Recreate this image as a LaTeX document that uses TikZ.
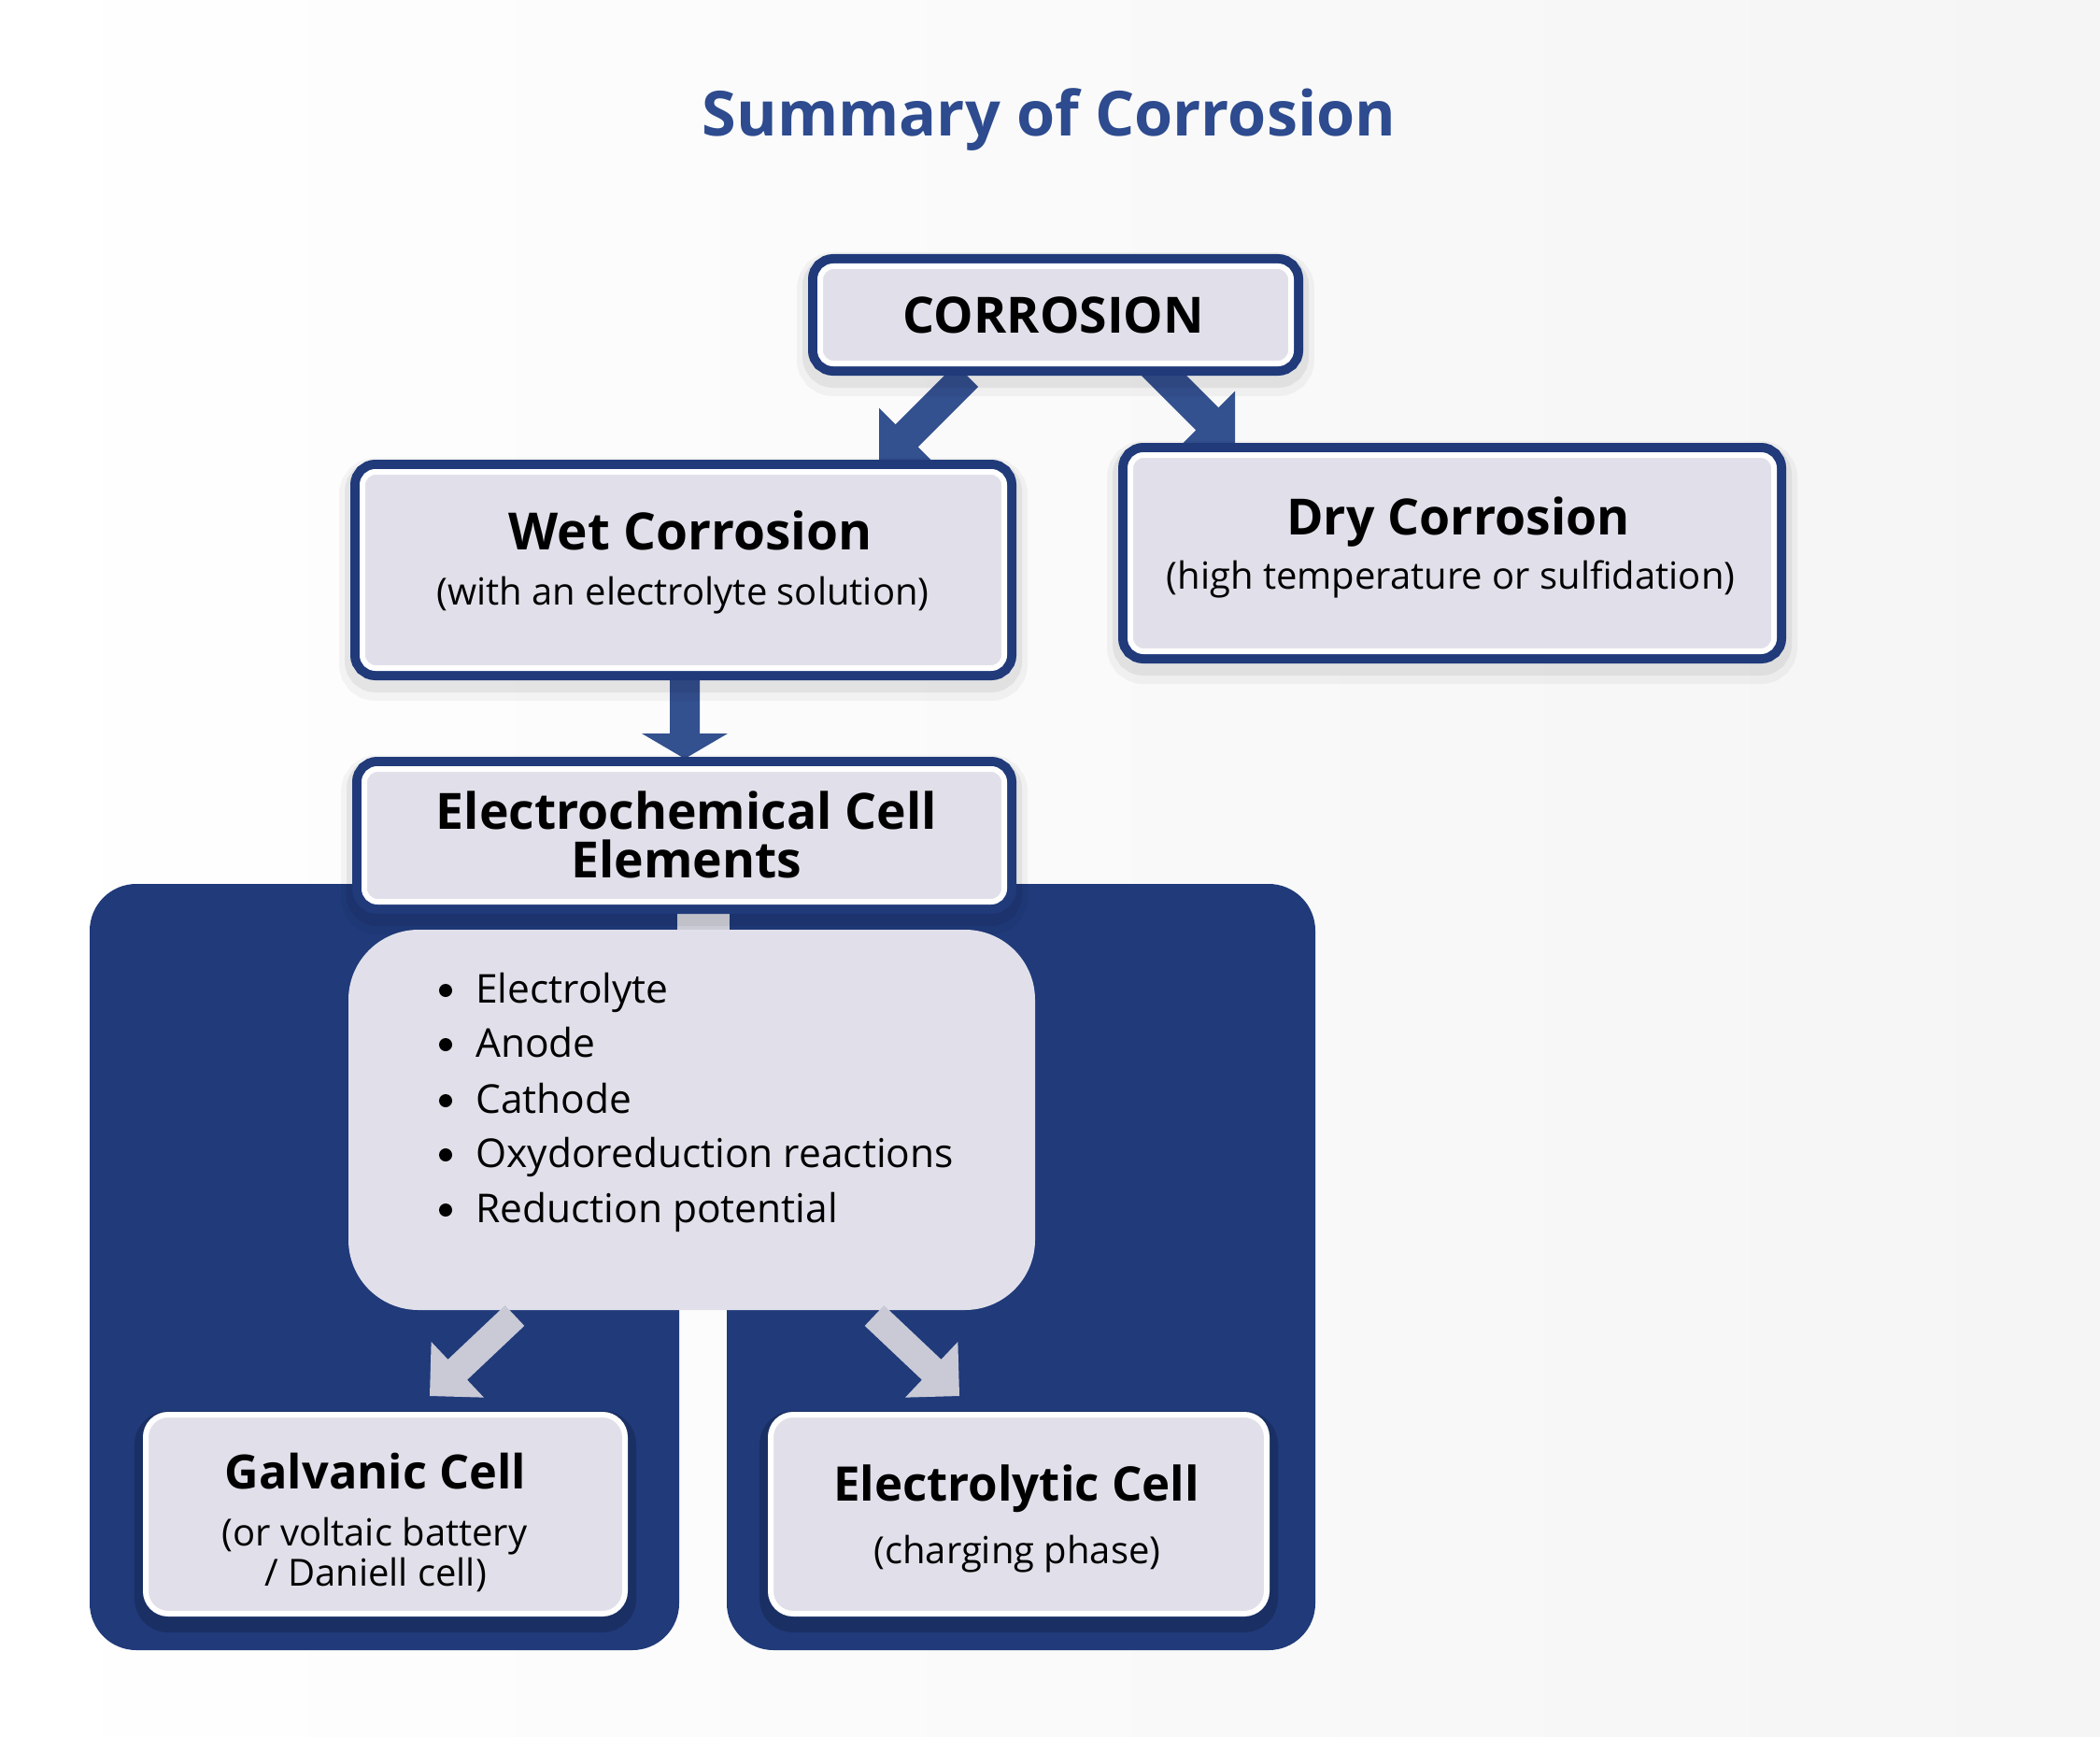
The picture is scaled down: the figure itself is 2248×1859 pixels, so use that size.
\documentclass[tikz,border=0pt]{standalone}
\usepackage{fontspec}
\setmainfont{Open Sans}
\usetikzlibrary{calc}
\definecolor{navy}{HTML}{203A7A}
\definecolor{boxfill}{HTML}{E1E0EA}
\definecolor{titleblue}{HTML}{2D4B8E}
\definecolor{arrowblue}{HTML}{33508F}
\definecolor{arrowgrey}{HTML}{C9CAD6}
\newcommand\fatarrow[6]{% tail, tip, half shaft, head length, half head, style
  \coordinate (#1-#2-b) at ($(#2)!#4!(#1)$);
  \fill[#6] ($(#1)!#3!90:(#2)$) -- ($(#1-#2-b)!#3!90:(#2)$) -- ($(#1-#2-b)!#5!90:(#2)$)
    -- (#2) -- ($(#1-#2-b)!#5!-90:(#2)$) -- ($(#1-#2-b)!#3!-90:(#2)$) -- ($(#1)!#3!-90:(#2)$) -- cycle;
}
\tikzset{
  softshadow/.style={preaction={draw=black, draw opacity=0.04, line width=50pt, transform canvas={yshift=-10pt}},
                     preaction={draw=black, draw opacity=0.06, line width=38pt, transform canvas={yshift=-7pt}}},
  topbox/.style={softshadow, rounded corners=14pt, fill=boxfill, draw=white, line width=6pt, inner sep=0pt,
    preaction={draw=navy, line width=26pt}},
  cellbox/.style={preaction={draw=black, draw opacity=0.18, line width=24pt, transform canvas={yshift=-8pt}},
    rounded corners=24pt, fill=boxfill, draw=white, line width=6pt, inner sep=0pt},
  listbox/.style={rounded corners=75pt, fill=boxfill, inner sep=0pt},
  head/.style={font=\fontsize{53.5}{53.5}\selectfont\bfseries, anchor=base, inner sep=0pt},
  sub/.style={font=\fontsize{40}{40}\selectfont, anchor=base, inner sep=0pt},
  item/.style={font=\fontsize{42.5}{42.5}\selectfont, anchor=base west, inner sep=0pt},
}
\begin{document}
\begin{tikzpicture}[x=1pt,y=-1pt]
\useasboundingbox (0,0) rectangle (2248,1859);
\shade[left color=white, right color=black!4] (0,0) rectangle (2248,1859);

\node[font=\fontsize{66.5}{66.5}\selectfont\bfseries, text=titleblue, anchor=base, inner sep=0pt] (title) at (1123,146) {Summary of Corrosion};

% dark blue backdrop
\fill[navy, rounded corners=50pt] (96,946) rectangle (727,1766);
\fill[navy, rounded corners=50pt] (778,946) rectangle (1408,1766);
\fill[navy] (700,946) rectangle (805,1380);

% blue arrows (behind boxes)
\coordinate (a1t) at (1035,402); \coordinate (a1h) at (941,496);
\coordinate (a2t) at (1228,384); \coordinate (a2h) at (1322,478);
\coordinate (a3t) at (733,700);  \coordinate (a3h) at (733,812);
\fatarrow{a1t}{a1h}{17pt}{42pt}{42pt}{arrowblue}
\fatarrow{a2t}{a2h}{17pt}{42pt}{42pt}{arrowblue}
\fatarrow{a3t}{a3h}{16pt}{27pt}{46pt}{arrowblue}

% boxes
\node[topbox, minimum width=504pt, minimum height=104pt] (corr) at (1130,337) {};
\node[topbox, minimum width=687pt, minimum height=210pt] (wet) at (731.5,610) {};
\node[topbox, minimum width=689pt, minimum height=210pt] (dry) at (1554.5,592) {};
\draw[arrowgrey!80!white, line width=56pt] (753,960) -- (753,1010);
\node[topbox, minimum width=685pt, minimum height=142pt] (elec) at (732.5,894) {};
\node[listbox, minimum width=735pt, minimum height=407pt] (list) at (740.5,1198.5) {};

% grey arrows
\coordinate (g1t) at (551,1408); \coordinate (g1h) at (460,1494);
\coordinate (g2t) at (936,1408); \coordinate (g2h) at (1027,1494);
\fatarrow{g1t}{g1h}{15pt}{41pt}{41pt}{arrowgrey}
\fatarrow{g2t}{g2h}{15pt}{41pt}{41pt}{arrowgrey}

\node[cellbox, minimum width=513pt, minimum height=213pt] (galv) at (412.5,1620.5) {};
\node[cellbox, minimum width=531pt, minimum height=213pt] (elyt) at (1090.5,1620.5) {};

% texts
\node[head] (tcorr) at (1128,357) {CORROSION};
\node[head, font=\fontsize{55}{55}\selectfont\bfseries] (twet) at (739,588) {Wet Corrosion};
\node[sub] (swet) at (731,647) {(with an electrolyte solution)};
\node[head] (tdry) at (1561,572) {Dry Corrosion};
\node[sub] (sdry) at (1553,630) {(high temperature or sulfidation)};
\node[head] (telec1) at (735,887) {Electrochemical Cell};
\node[head] (telec2) at (735,939) {Elements};

\foreach \t/\y [count=\i] in {Electrolyte/1073, Anode/1131, Cathode/1191, Oxydoreduction reactions/1249, Reduction potential/1308}{
  \fill (477,\y-13) circle (7pt);
  \node[item] (item\i) at (509,\y) {\t};
}

\node[head, font=\fontsize{50.5}{50.5}\selectfont\bfseries] (tgalv) at (402,1593) {Galvanic Cell};
\node[sub] (sgalv1) at (401,1654) {(or voltaic battery};
\node[sub] (sgalv2) at (402,1697) {/ Daniell cell)};
\node[head, font=\fontsize{51}{51}\selectfont\bfseries] (telyt) at (1088,1606) {Electrolytic Cell};
\node[sub] (selyt) at (1089,1673) {(charging phase)};
\end{tikzpicture}
\end{document}
